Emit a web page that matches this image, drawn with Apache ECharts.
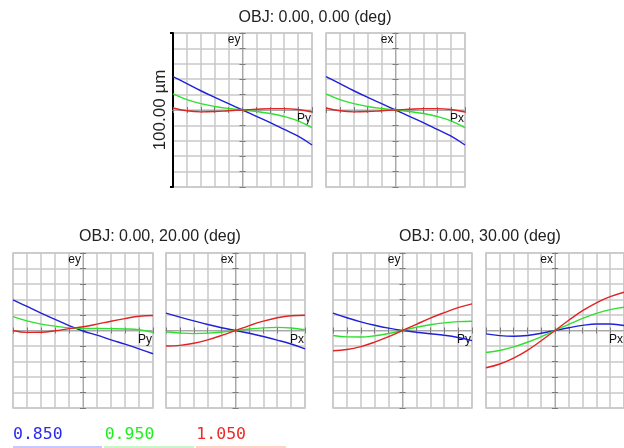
<!DOCTYPE html>
<html>
<head>
<meta charset="utf-8">
<script src="https://cdn.jsdelivr.net/npm/echarts@6/dist/echarts.min.js"></script>
<style>
  html, body { margin: 0; padding: 0; background: #fff; }
  #chart { width: 624px; height: 448px; }
</style>
</head>
<body>
<div id="chart"></div>
<script>
// Normalised pupil coordinate sampled along each fan
const PUPIL = [-1, -0.8, -0.6, -0.4, -0.2, 0, 0.2, 0.4, 0.6, 0.8, 1];

// Wavelengths (µm) drawn in every fan
const WAVELENGTHS = ['0.850', '0.950', '1.050'];

// Field titles
const FIELD_TITLES = ['OBJ: 0.00, 0.00 (deg)', 'OBJ: 0.00, 20.00 (deg)', 'OBJ: 0.00, 30.00 (deg)'];

// Ray aberrations in µm — field 0°, tangential fan (ey vs Py)
const ey0_850  = [21.7, 17.2, 12.5, 8.2, 4.1, 0, -4.1, -8.2, -12.6, -17.0, -22.7];
const ey0_950  = [10.4, 6.7, 4.1, 2.3, 1.0, 0, -1.0, -2.3, -4.2, -7.0, -11.5];
const ey0_1050 = [1.3, -0.5, -1.2, -1.0, -0.5, 0, 0.5, 0.9, 0.9, 0.3, -1.3];
// field 0°, sagittal fan (ex vs Px)
const ex0_850  = [21.7, 17.2, 12.5, 8.2, 4.1, 0, -4.1, -8.2, -12.6, -17.0, -22.7];
const ex0_950  = [10.4, 6.7, 4.1, 2.3, 1.0, 0, -1.0, -2.3, -4.2, -7.0, -11.5];
const ex0_1050 = [1.3, -0.5, -1.2, -1.0, -0.5, 0, 0.5, 0.9, 0.9, 0.3, -1.3];
// field 20°, tangential fan
const ey20_850  = [19.8, 15.5, 11.2, 7.2, 3.2, -0.3, -3.0, -6.0, -8.8, -11.8, -15.0];
const ey20_950  = [9.0, 6.2, 4.1, 2.8, 1.7, 1.3, 1.3, 1.2, 1.0, 0.5, -1.1];
const ey20_1050 = [0.0, -1.2, -1.1, -0.2, 1.2, 2.4, 4.1, 6.0, 7.7, 9.2, 9.7];
// field 20°, sagittal fan
const ex20_850  = [11.2, 8.6, 6.2, 3.9, 1.8, 0, -1.8, -3.9, -6.2, -8.7, -11.8];
const ex20_950  = [-0.8, -1.6, -2.0, -1.7, -1.0, 0, 1.0, 1.7, 2.0, 1.6, 0.5];
const ex20_1050 = [-10.0, -9.6, -8.2, -6.0, -3.2, 0, 3.2, 6.0, 8.2, 9.5, 9.8];
// field 30°, tangential fan
const ey30_850  = [11.2, 8.2, 5.6, 3.4, 1.5, 0, -1.1, -2.1, -3.1, -4.5, -6.5];
const ey30_950  = [-3.2, -4.1, -4.2, -3.4, -1.9, 0, 2.1, 3.7, 4.9, 5.7, 6.0];
const ey30_1050 = [-13.1, -12.3, -10.4, -7.5, -4.0, 0, 4.0, 8.0, 11.5, 14.8, 17.2];
// field 30°, sagittal fan
const ex30_850  = [-2.2, -3.3, -3.7, -3.2, -1.8, 0, 1.8, 3.3, 4.2, 4.2, 3.2];
const ex30_950  = [-14.2, -12.9, -10.6, -7.6, -4.0, 0, 4.0, 7.8, 11.0, 13.5, 15.0];
const ex30_1050 = [-24.0, -21.6, -17.8, -12.8, -6.6, 0, 6.6, 12.8, 17.9, 21.8, 24.7];

// Plot scale: full height of each fan = 100 µm
const SCALE_LABEL = '100.00 µm';

// ---- presentation ----
const FONT = '"Liberation Sans", Arial, sans-serif';
const LINE_COLORS = ['#2020d8', '#30e030', '#e02424'];
const LEGEND_COLORS = ['#2a2aee', '#22ee22', '#ee2a2a'];
const GRID_GREY = '#c8c8c8';
const AXIS_GREY = '#a8a8a8';
const TICK_GREY = '#7a7a7a';

const panels = [
  { rect: { left: 173, top: 33, width: 139, height: 154 }, axis: 'ey', pupil: 'Py', curves: [ey0_850, ey0_950, ey0_1050] },
  { rect: { left: 326, top: 33, width: 139, height: 154 }, axis: 'ex', pupil: 'Px', curves: [ex0_850, ex0_950, ex0_1050] },
  { rect: { left: 13,  top: 253, width: 140, height: 155 }, axis: 'ey', pupil: 'Py', curves: [ey20_850, ey20_950, ey20_1050] },
  { rect: { left: 166, top: 253, width: 139, height: 155 }, axis: 'ex', pupil: 'Px', curves: [ex20_850, ex20_950, ex20_1050] },
  { rect: { left: 333, top: 253, width: 139, height: 155 }, axis: 'ey', pupil: 'Py', curves: [ey30_850, ey30_950, ey30_1050] },
  { rect: { left: 486, top: 253, width: 139, height: 155 }, axis: 'ex', pupil: 'Px', curves: [ex30_850, ex30_950, ex30_1050] }
];

const grids = [], xAxes = [], yAxes = [], series = [];

panels.forEach((p, g) => {
  grids.push(Object.assign({ show: true, borderColor: GRID_GREY, borderWidth: 1.5 }, p.rect));

  const xBase = { gridIndex: g, type: 'value', min: -1, max: 1, interval: 0.2, axisLabel: { show: false } };
  const yBase = { gridIndex: g, type: 'value', min: -50, max: 50, interval: 10, axisLabel: { show: false } };

  // horizontal centre axis (ticks below) carrying the grid's vertical lines
  xAxes.push(Object.assign({}, xBase, {
    position: 'bottom',
    axisLine: { onZero: true, onZeroAxisIndex: 2 * g, lineStyle: { color: AXIS_GREY, width: 1 } },
    axisTick: { show: true, length: 3, lineStyle: { color: TICK_GREY, width: 1 } },
    splitLine: { show: true, lineStyle: { color: GRID_GREY, width: 1.5 } },
    name: p.pupil, nameLocation: 'end', nameGap: 0,
    nameTextStyle: { fontFamily: FONT, fontSize: 12, color: '#111', align: 'right', verticalAlign: 'top', padding: [3, 1, 0, 0] }
  }));
  // same axis, ticks above
  xAxes.push(Object.assign({}, xBase, {
    position: 'top',
    axisLine: { onZero: true, onZeroAxisIndex: 2 * g, lineStyle: { color: AXIS_GREY, width: 1 } },
    axisTick: { show: true, length: 3, lineStyle: { color: TICK_GREY, width: 1 } },
    splitLine: { show: false }
  }));
  // vertical centre axis (ticks left) carrying the grid's horizontal lines
  yAxes.push(Object.assign({}, yBase, {
    position: 'left',
    axisLine: { onZero: true, onZeroAxisIndex: 2 * g, lineStyle: { color: AXIS_GREY, width: 1 } },
    axisTick: { show: true, length: 3, lineStyle: { color: TICK_GREY, width: 1 } },
    splitLine: { show: true, lineStyle: { color: GRID_GREY, width: 1.5 } },
    name: p.axis, nameLocation: 'end', nameGap: 0,
    nameTextStyle: { fontFamily: FONT, fontSize: 12, color: '#111', align: 'right', verticalAlign: 'top', padding: [1, 2, 0, 0] }
  }));
  // same axis, ticks right
  yAxes.push(Object.assign({}, yBase, {
    position: 'right',
    axisLine: { onZero: true, onZeroAxisIndex: 2 * g, lineStyle: { color: AXIS_GREY, width: 1 } },
    axisTick: { show: true, length: 3, lineStyle: { color: TICK_GREY, width: 1 } },
    splitLine: { show: false }
  }));

  p.curves.forEach((vals, k) => {
    series.push({
      name: WAVELENGTHS[k],
      type: 'line',
      xAxisIndex: 2 * g,
      yAxisIndex: 2 * g,
      data: PUPIL.map((x, i) => [x, vals[i]]),
      smooth: 0.4,
      symbol: 'none',
      lineStyle: { color: LINE_COLORS[k], width: 1.4 },
      itemStyle: { color: LINE_COLORS[k] },
      emphasis: { disabled: true },
      z: 3
    });
  });
});

// scale bar on the first fan
yAxes.push({
  gridIndex: 0, type: 'value', min: 0, max: 100, interval: 100, position: 'left',
  axisLine: { show: true, onZero: false, lineStyle: { color: '#000', width: 2 } },
  axisTick: { show: true, length: 3, lineStyle: { color: '#000', width: 2 } },
  axisLabel: { show: false },
  splitLine: { show: false },
  name: SCALE_LABEL, nameLocation: 'middle', nameGap: 4, nameRotate: 90,
  nameTextStyle: { fontFamily: FONT, fontSize: 17, color: '#222' }
});

const titleCentres = [[315, 18], [160, 237], [480, 237]];
const graphics = FIELD_TITLES.map((t, i) => ({
  type: 'text', x: titleCentres[i][0], y: titleCentres[i][1],
  style: { text: t, fill: '#222', font: '16px ' + FONT, align: 'center', verticalAlign: 'middle' }
}));
// light swatch bars beneath the wavelength labels
const swatches = [['#c8c8ff', 13, 89], ['#c8f5c8', 104, 90], ['#ffd2c8', 196, 90]];
swatches.forEach(([c, x, w]) => {
  graphics.push({ type: 'rect', shape: { x: x, y: 446, width: w, height: 2 }, style: { fill: c } });
});

const chart = echarts.init(document.getElementById('chart'), null, { renderer: 'canvas' });
chart.setOption({
  animation: false,
  backgroundColor: '#fff',
  grid: grids,
  xAxis: xAxes,
  yAxis: yAxes,
  series: series,
  graphic: graphics,
  legend: {
    left: 3, top: 421,
    icon: 'rect', itemWidth: 0, itemHeight: 0, itemGap: 37,
    selectedMode: false,
    textStyle: { fontFamily: '"DejaVu Sans Mono", monospace', fontSize: 16.5 },
    data: WAVELENGTHS.map((w, k) => ({ name: w, textStyle: { color: LEGEND_COLORS[k] } }))
  }
});
</script>
</body>
</html>
